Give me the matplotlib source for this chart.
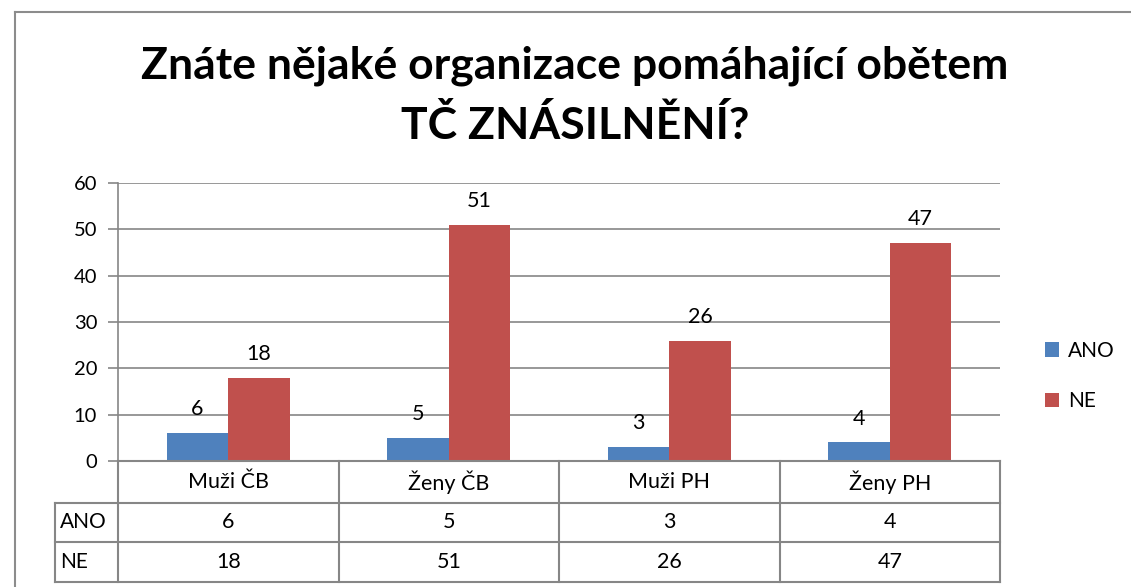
import matplotlib.pyplot as plt
import numpy as np
from matplotlib.lines import Line2D

plt.rcParams['font.family'] = ['Lato', 'DejaVu Sans']

# Data
categories = ["Muži ČB", "Ženy ČB", "Muži PH", "Ženy PH"]
series_names = ["ANO", "NE"]
ano = [6, 5, 3, 4]
ne = [18, 51, 26, 47]
colors = ["#4F81BD", "#C0504D"]
grid_color = "#868686"

fig = plt.figure(figsize=(11.31, 5.87), dpi=100)
W, H = 1131, 587

# outer chart border
fig.add_artist(Line2D([15 / W, 15 / W], [0, 1 - 12 / H], color="#8c8c8c", lw=1.5))
fig.add_artist(Line2D([15 / W, 1], [1 - 12 / H, 1 - 12 / H], color="#8c8c8c", lw=1.5))

fig.text(575 / W, 1 - 66 / H, "Znáte nějaké organizace pomáhající obětem",
         ha="center", va="center", fontsize=32, fontweight="bold")
fig.text(575 / W, 1 - 125 / H, "TČ ZNÁSILNĚNÍ?",
         ha="center", va="center", fontsize=32, fontweight="bold")

ax = fig.add_axes([118 / W, 1 - 461 / H, (1000 - 118) / W, (461 - 183) / H])
x = np.arange(len(categories))
bw = 0.28
b1 = ax.bar(x - bw / 2, ano, bw, color=colors[0], label=series_names[0])
b2 = ax.bar(x + bw / 2, ne, bw, color=colors[1], label=series_names[1])
for bars, vals in ((b1, ano), (b2, ne)):
    for rect, v in zip(bars, vals):
        ax.text(rect.get_x() + rect.get_width() / 2, v + 3.0, str(v),
                ha="center", va="bottom", fontsize=15.5)

ax.set_xlim(-0.5, len(categories) - 0.5)
ax.set_ylim(0, 60)
ax.set_yticks(range(0, 61, 10))
ax.yaxis.grid(True, color=grid_color, lw=1.2)
ax.set_axisbelow(True)
for s in ["top", "right", "bottom"]:
    ax.spines[s].set_visible(False)
ax.spines["left"].set_color(grid_color)
ax.spines["left"].set_linewidth(1.2)
ax.tick_params(axis="y", length=7, color=grid_color, width=1.2, labelsize=14.5, pad=8)
ax.set_xticks([])

# data table under the axis (y in axes fraction)
ph = 461 - 183
rows_px = [461, 503, 542, 582]
rows = [(461 - r) / ph for r in rows_px]
lkw = dict(color=grid_color, lw=1.5, clip_on=False, transform=ax.transAxes)
left_col = (55 - 118) / (1000 - 118)
# horizontal lines
ax.add_line(Line2D([0, 1], [rows[0], rows[0]], **lkw))
for r in rows[1:]:
    ax.add_line(Line2D([left_col, 1], [r, r], **lkw))
# vertical lines
for i in range(len(categories) + 1):
    xf = i / len(categories)
    ax.add_line(Line2D([xf, xf], [rows[0], rows[3]], **lkw))
ax.add_line(Line2D([left_col, left_col], [rows[1], rows[3]], **lkw))

trans = ax.get_xaxis_transform()
for i, c in enumerate(categories):
    ax.text(i, (rows[0] + rows[1]) / 2, c, ha="center", va="center",
            fontsize=15.5, transform=trans, clip_on=False)
for j, (name, vals) in enumerate(zip(series_names, (ano, ne))):
    yc = (rows[j + 1] + rows[j + 2]) / 2
    ax.text(left_col + 0.006, yc, name, ha="left", va="center", fontsize=15,
            transform=ax.transAxes, clip_on=False)
    for i, v in enumerate(vals):
        ax.text(i, yc, str(v), ha="center", va="center", fontsize=15.5,
                transform=trans, clip_on=False)

fig.legend(handles=[b1, b2], labels=series_names, loc="center left",
           bbox_to_anchor=(1026 / W, 1 - 376 / H), frameon=False,
           fontsize=15, handlelength=0.7, handleheight=0.7,
           handletextpad=0.4, labelspacing=1.45)

fig.savefig("out.png", dpi=100)
